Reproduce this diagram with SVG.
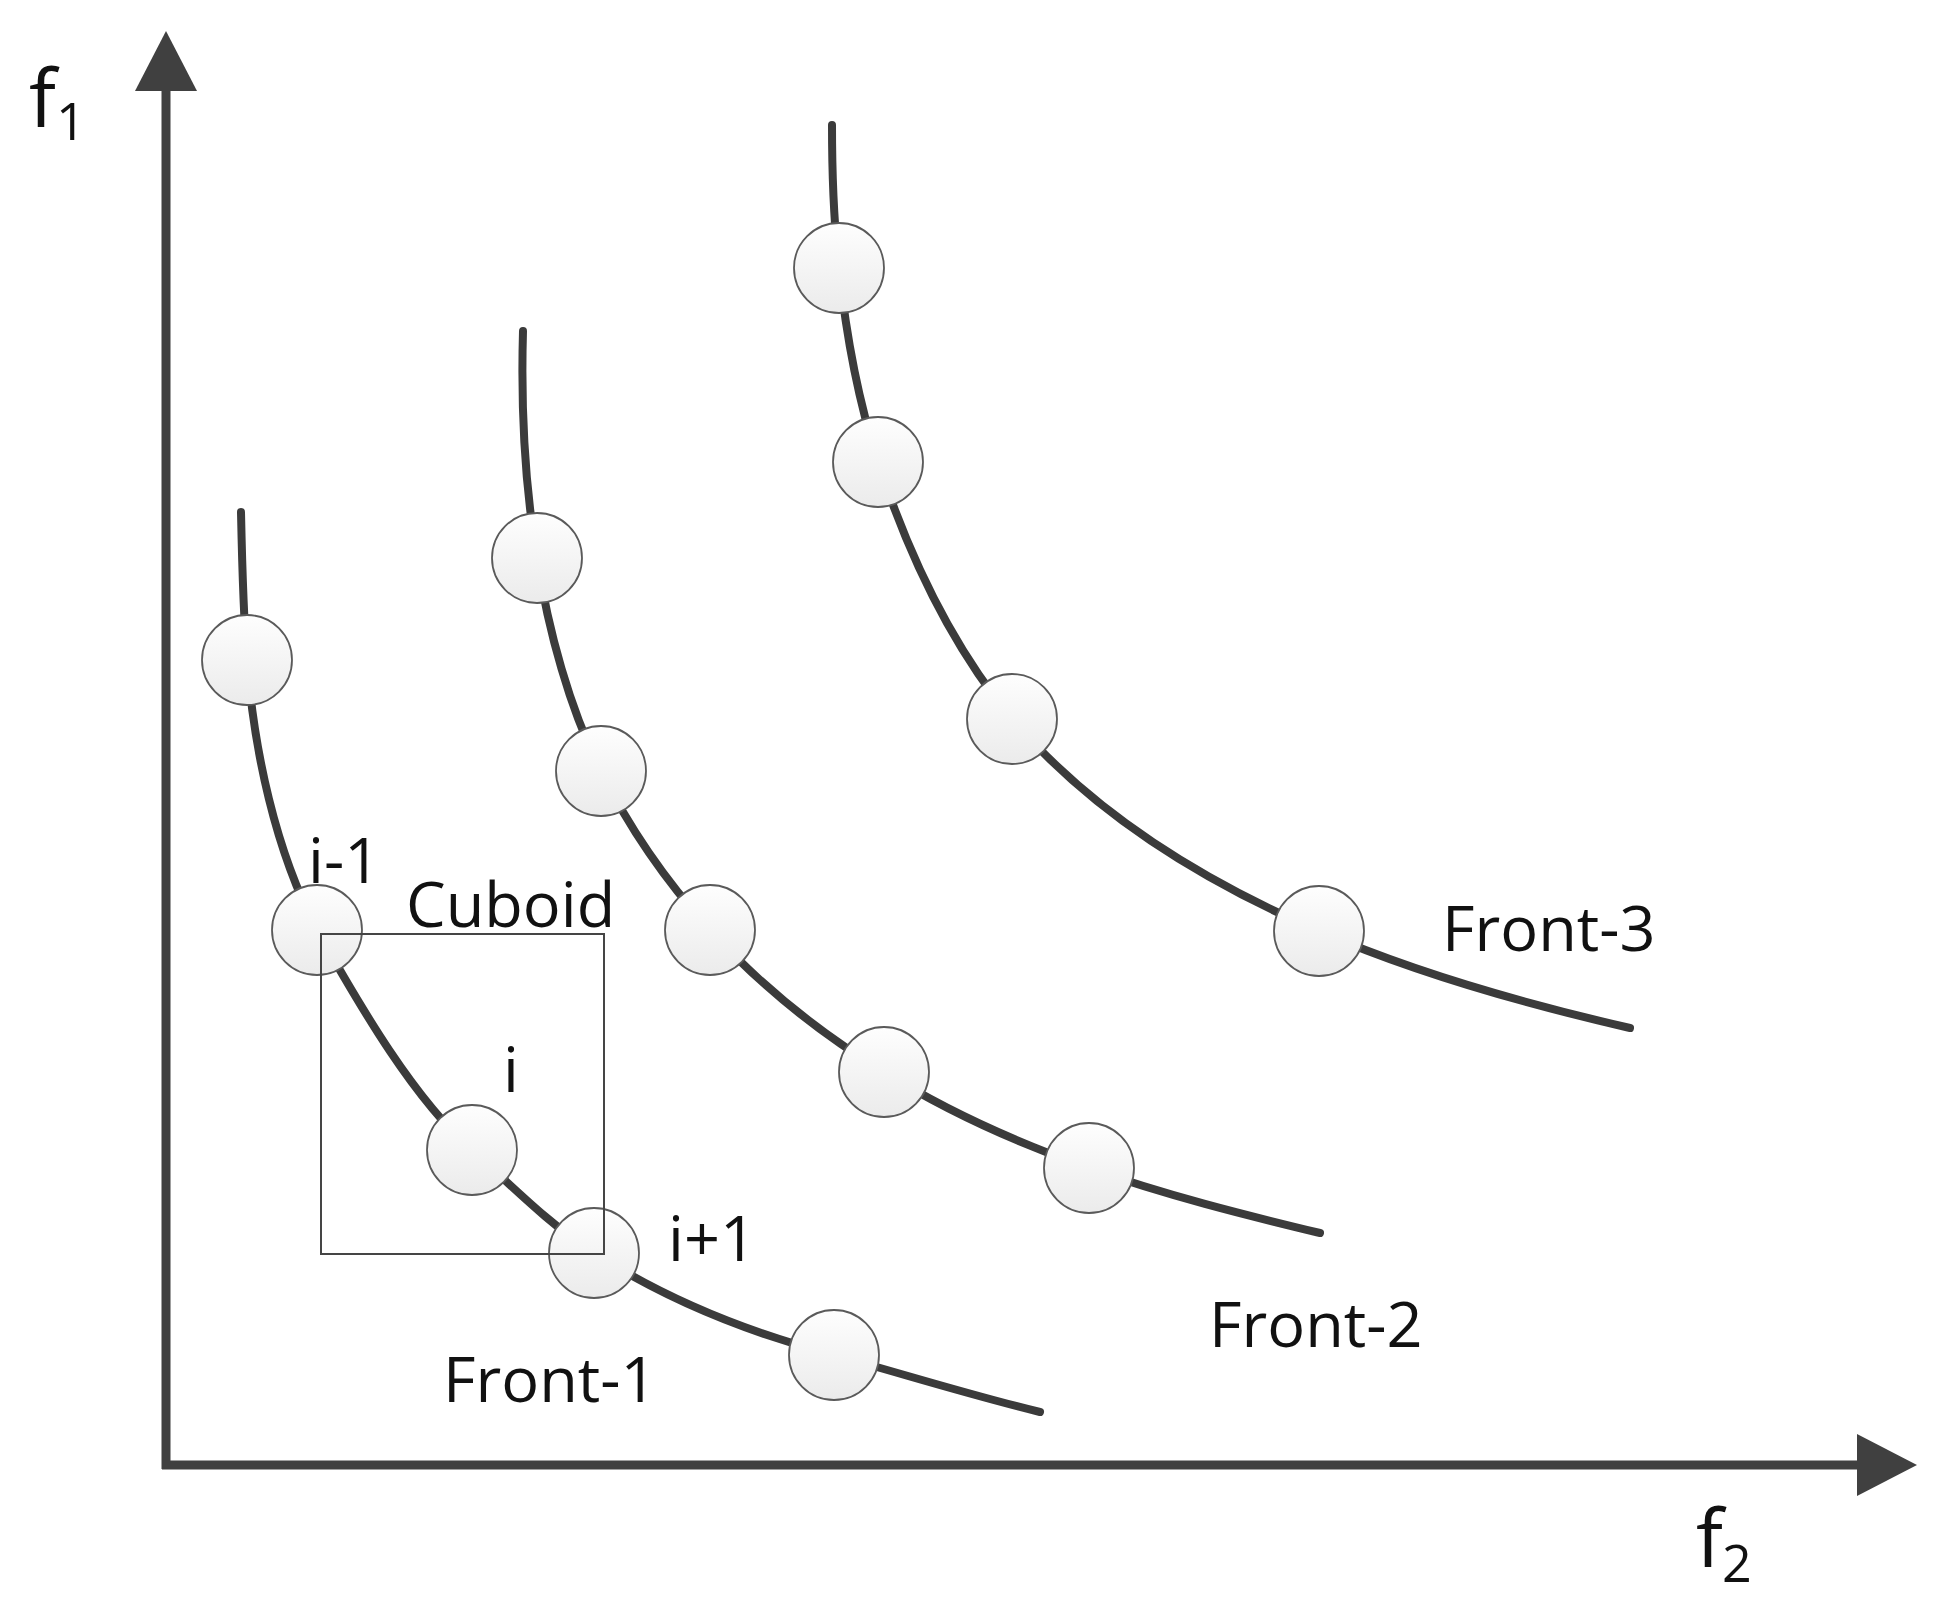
<svg xmlns="http://www.w3.org/2000/svg" width="1934" height="1611" viewBox="0 0 1934 1611">
<style>
.curve{fill:none;stroke:#3b3b3b;stroke-width:8;stroke-linecap:round}
.axis{fill:none;stroke:#404040;stroke-width:9}
.pt{fill:url(#pg);stroke:#5a5a5a;stroke-width:1.8}
.lbl{font-family:"Open Sans","Liberation Sans",sans-serif;font-size:63px;fill:#111}
.ax{font-family:"Open Sans","Liberation Sans",sans-serif;fill:#111}
</style>
<defs>
<linearGradient id="pg" x1="0" y1="0" x2="0" y2="1">
<stop offset="0" stop-color="#fefefe"/>
<stop offset="1" stop-color="#ebebeb"/>
</linearGradient>
<marker id="arr" viewBox="0 0 60 62" markerWidth="60" markerHeight="62" refX="0" refY="31" orient="auto" markerUnits="userSpaceOnUse">
<path d="M0,0 L60,31 L0,62 z" fill="#404040"/>
</marker>
</defs>
<rect width="1934" height="1611" fill="#fff"/>
<g id="connectors">
<path id="curve-front-1" class="curve" d="M241,512 C242,560 243,610 247,660 C254,750 275,850 317,930 C362,1010 415,1100 472,1150 C512,1186 550,1225 594,1253 C670,1302 750,1333 834,1355 C900,1373 970,1395 1040,1412"/>
<path id="curve-front-2" class="curve" d="M523,331 C521,400 524,480 537,558 C548,630 570,710 601,771 C630,830 665,880 710,930 C760,985 815,1030 884,1072 C945,1110 1015,1142 1089,1168 C1165,1195 1245,1215 1320,1233"/>
<path id="curve-front-3" class="curve" d="M832,125 C832,175 834,225 839,268 C846,335 858,400 878,462 C910,560 955,650 1012,719 C1090,810 1200,880 1319,931 C1420,975 1530,1005 1630,1028"/>
</g>
<g id="front-1">
<circle class="pt" cx="247" cy="660" r="45"/>
<circle class="pt" cx="317" cy="930" r="45"/>
<circle class="pt" cx="472" cy="1150" r="45"/>
<circle class="pt" cx="594" cy="1253" r="45"/>
<circle class="pt" cx="834" cy="1355" r="45"/>
</g>
<g id="front-2">
<circle class="pt" cx="537" cy="558" r="45"/>
<circle class="pt" cx="601" cy="771" r="45"/>
<circle class="pt" cx="710" cy="930" r="45"/>
<circle class="pt" cx="884" cy="1072" r="45"/>
<circle class="pt" cx="1089" cy="1168" r="45"/>
</g>
<g id="front-3">
<circle class="pt" cx="839" cy="268" r="45"/>
<circle class="pt" cx="878" cy="462" r="45"/>
<circle class="pt" cx="1012" cy="719" r="45"/>
<circle class="pt" cx="1319" cy="931" r="45"/>
</g>
<g id="cuboid">
<rect x="321" y="934" width="283" height="320" fill="none" stroke="#454545" stroke-width="2"/>
<text class="lbl" x="406" y="927">Cuboid</text>
</g>
<g id="labels">
<text class="lbl" x="308" y="883">i-1</text>
<text class="lbl" x="503" y="1092">i</text>
<text class="lbl" x="668" y="1261">i+1</text>
<text class="lbl" x="443" y="1402">Front-1</text>
<text class="lbl" x="1209" y="1347">Front-2</text>
<text class="lbl" x="1442" y="951">Front-3</text>
</g>
<g id="axes">
<line class="axis" x1="166" y1="1469" x2="166" y2="91" marker-end="url(#arr)"/>
<line class="axis" x1="162" y1="1465" x2="1857" y2="1465" marker-end="url(#arr)"/>
<text class="ax" x="29" y="127" font-size="80">f</text>
<text class="ax" x="56" y="140" font-size="52">1</text>
<text class="ax" x="1696" y="1567" font-size="80">f</text>
<text class="ax" x="1722" y="1582" font-size="52">2</text>
</g>
</svg>
